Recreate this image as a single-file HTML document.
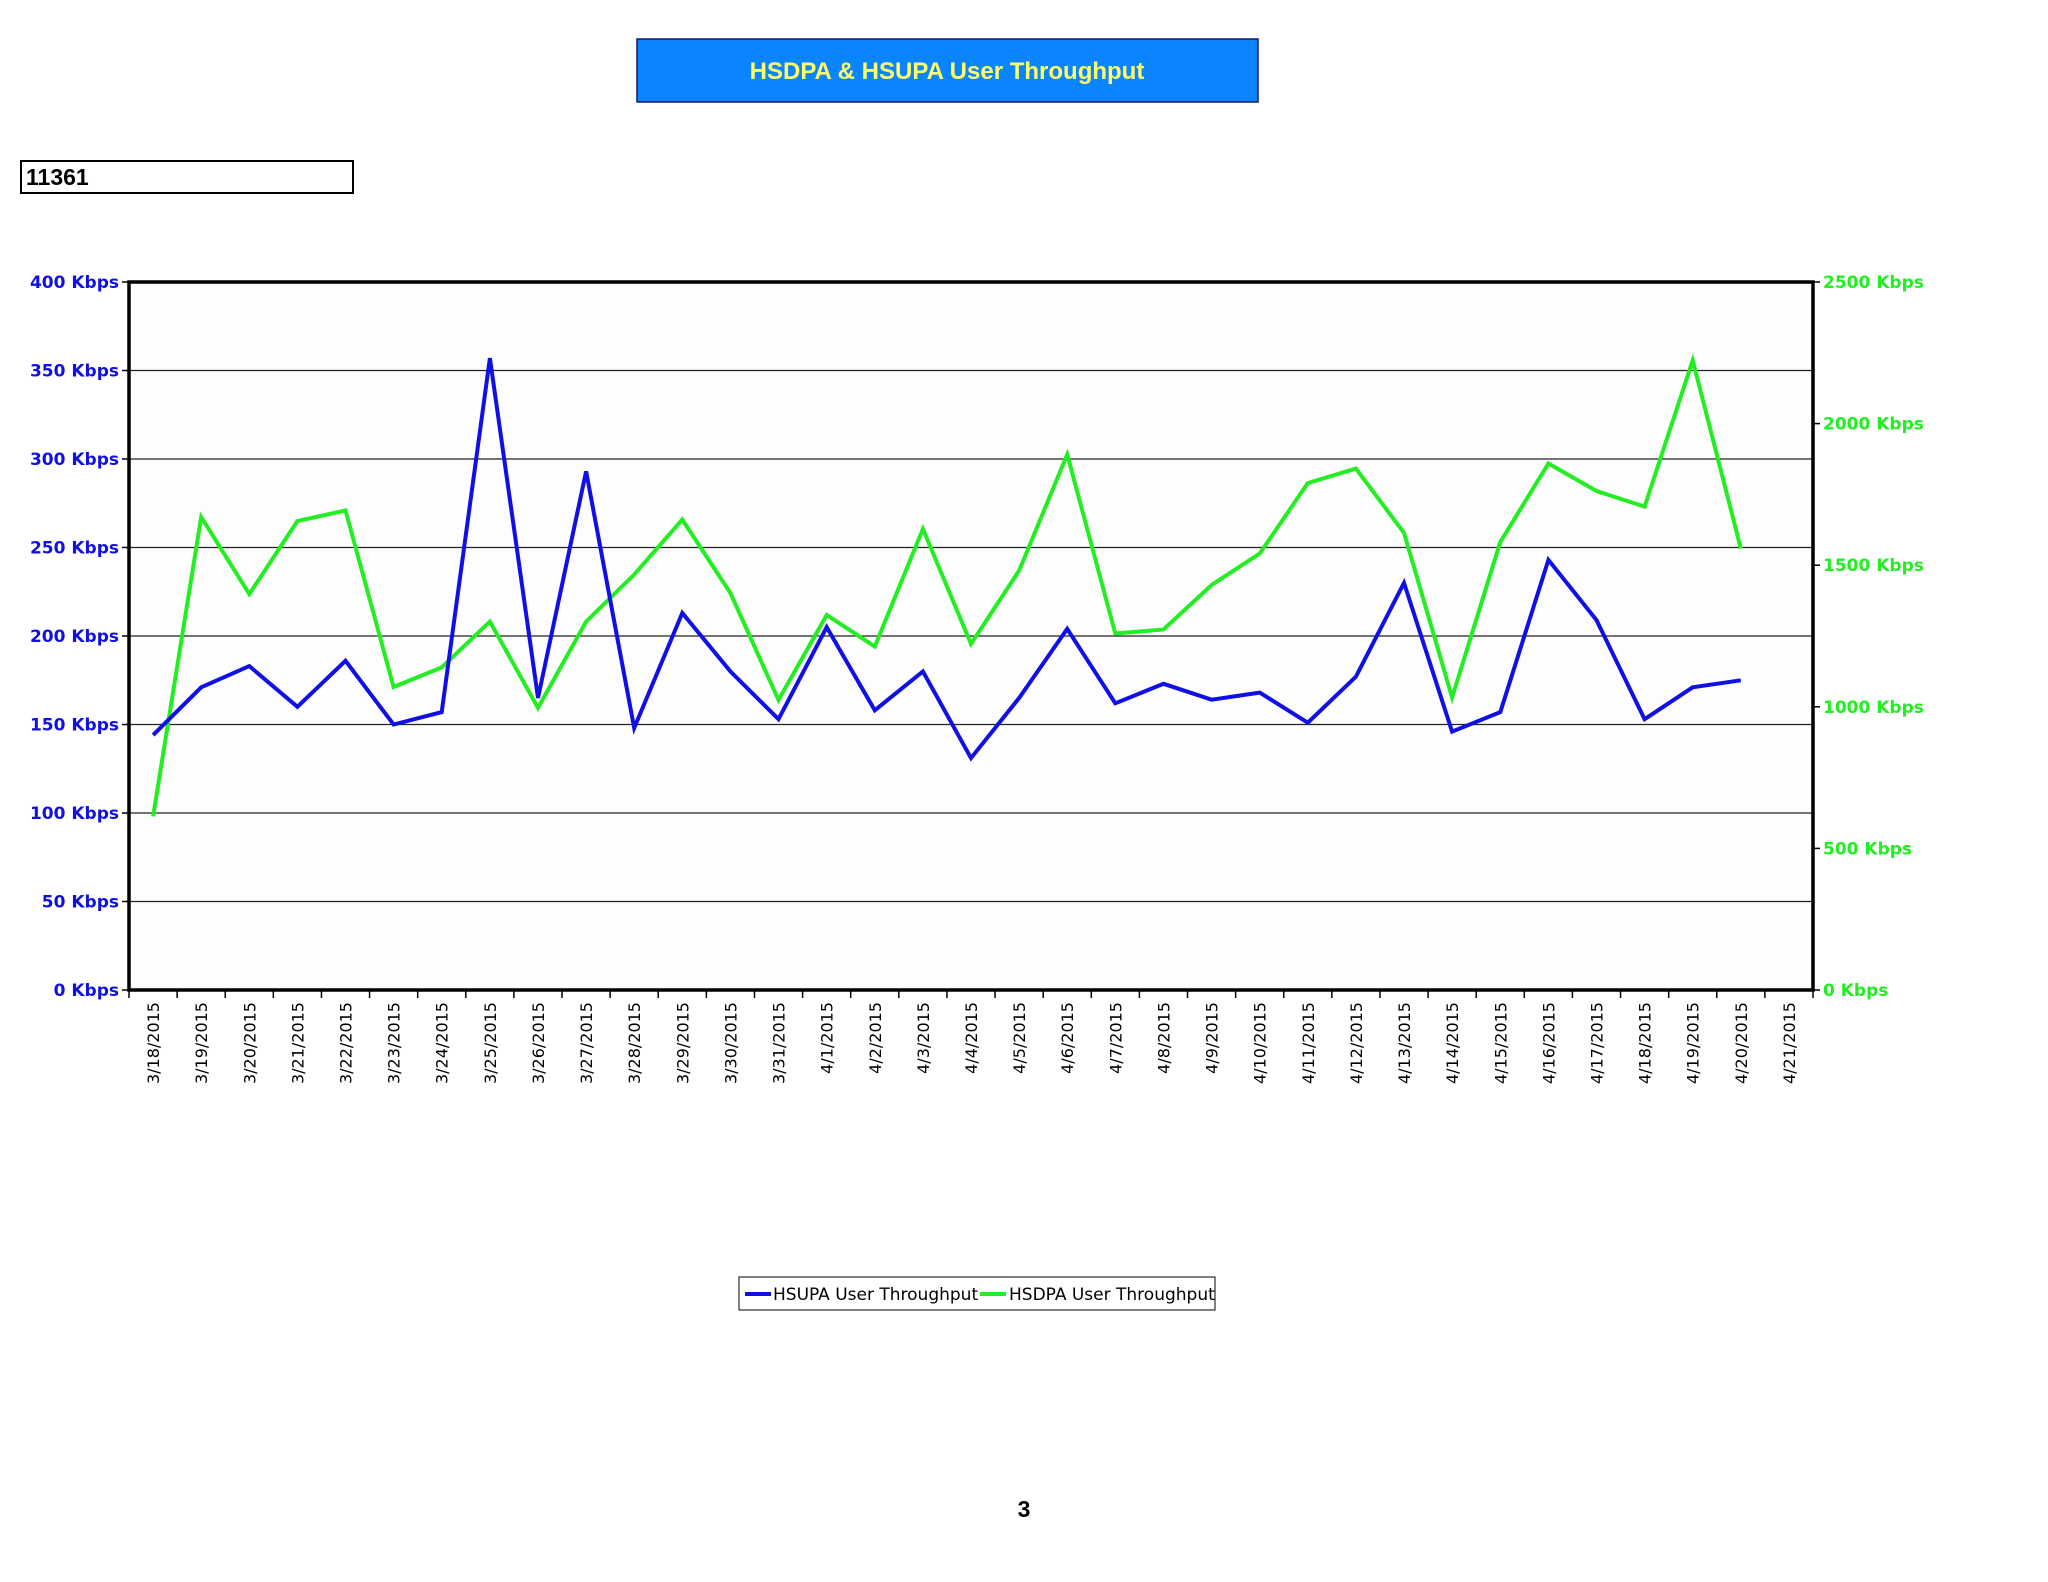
<!DOCTYPE html>
<html><head><meta charset="utf-8"><style>
html,body{margin:0;padding:0;background:#fff;}
svg{display:block;}
text{font-family:"DejaVu Sans","Liberation Sans",sans-serif;}
</style></head><body>
<svg id="c" width="2048" height="1582" viewBox="0 0 2048 1582">
<rect x="637" y="39" width="621" height="63" fill="#0a84ff" stroke="#1a1a5a" stroke-width="1.5"/>
<text x="947" y="79" text-anchor="middle" font-size="24" font-weight="bold" fill="#ffff66" style="font-family:'Liberation Sans',sans-serif">HSDPA &amp; HSUPA User Throughput</text>
<rect x="21" y="161" width="332" height="32" fill="#fff" stroke="#000" stroke-width="2"/>
<text x="26" y="185" font-size="23" font-weight="bold" fill="#000" style="font-family:'Liberation Sans',sans-serif">11361</text>
<g id="grid"></g><g id="axes"></g><g id="series"></g>
<g>
<rect x="739" y="1277" width="476" height="33" fill="#fff" stroke="#000" stroke-width="1"/>
<line x1="745" y1="1294" x2="771" y2="1294" stroke="#1010e6" stroke-width="4"/>
<text x="773" y="1300" font-size="17" fill="#000">HSUPA User Throughput</text>
<line x1="980" y1="1294" x2="1006" y2="1294" stroke="#22ee22" stroke-width="4"/>
<text x="1009" y="1300" font-size="17" fill="#000">HSDPA User Throughput</text>
</g>
<text x="1024" y="1517" text-anchor="middle" font-size="23" font-weight="bold" fill="#000" style="font-family:'Liberation Sans',sans-serif">3</text>
</svg>
<script>
const categories=["3/18/2015","3/19/2015","3/20/2015","3/21/2015","3/22/2015","3/23/2015","3/24/2015","3/25/2015","3/26/2015","3/27/2015","3/28/2015","3/29/2015","3/30/2015","3/31/2015","4/1/2015","4/2/2015","4/3/2015","4/4/2015","4/5/2015","4/6/2015","4/7/2015","4/8/2015","4/9/2015","4/10/2015","4/11/2015","4/12/2015","4/13/2015","4/14/2015","4/15/2015","4/16/2015","4/17/2015","4/18/2015","4/19/2015","4/20/2015","4/21/2015"];
const hsupa=[144,171,183,160,186,150,157,357,165,293,148,213,180,153,205,158,180,131,165,204,162,173,164,168,151,177,230,146,157,243,209,153,171,175,null];
const hsdpa=[613,1670,1398,1656,1693,1070,1139,1301,996,1301,1467,1661,1402,1024,1324,1213,1628,1222,1481,1891,1259,1273,1430,1541,1790,1841,1614,1033,1582,1859,1762,1707,2223,1559,null];
const leftTicks=[0,50,100,150,200,250,300,350,400];
const rightTicks=[0,500,1000,1500,2000,2500];
const L=129,R=1813,T=282,B=990,NS="http://www.w3.org/2000/svg";
const xs=i=>L+(i+0.5)*(R-L)/categories.length;
const yL=v=>B-(v/400)*(B-T);
const yR=v=>B-(v/2500)*(B-T);
function mk(tag,attrs,parent,txt){const e=document.createElementNS(NS,tag);for(const k in attrs)e.setAttribute(k,attrs[k]);if(txt!==undefined)e.textContent=txt;parent.appendChild(e);return e;}
const grid=document.getElementById('grid'),axes=document.getElementById('axes'),ser=document.getElementById('series');
mk('rect',{x:L,y:T,width:R-L,height:B-T,fill:'#fdfdfd'},grid);
leftTicks.forEach(v=>{
 const y=yL(v);
 const g=mk('line',{x1:L,x2:R,y1:y,y2:y,stroke:'#222','stroke-width':1.2},grid);
 
 
 mk('line',{x1:L-7,x2:L,y1:y,y2:y,stroke:'#000','stroke-width':1.5},axes);
 const t=mk('text',{x:L-10,y:y+6,'text-anchor':'end','font-size':17,'font-weight':'bold',fill:'#1010e6'},axes,v+' Kbps');
 
 
});
rightTicks.forEach(v=>{
 const y=yR(v);
 mk('line',{x1:R,x2:R+7,y1:y,y2:y,stroke:'#000','stroke-width':1.5},axes);
 const t=mk('text',{x:R+10,y:y+6,'font-size':17,'font-weight':'bold',fill:'#22ee22'},axes,v+' Kbps');
 
 
});
const step=(R-L)/categories.length;
for(let i=0;i<=categories.length;i++){mk('line',{x1:L+i*step,x2:L+i*step,y1:B,y2:B+8,stroke:'#000','stroke-width':1.5},axes);}
categories.forEach((c,i)=>{
 const x=xs(i)+6,y=B+12;
 const t=mk('text',{x:x,y:y,'text-anchor':'end','font-size':16,fill:'#000',transform:`rotate(-90 ${x} ${y})`},axes,c);
 
 
});
const frame=mk('rect',{x:L,y:T,width:R-L,height:B-T,fill:'none',stroke:'#000','stroke-width':3.5},axes);


function line(data,yf,color,name){
 const pts=[];data.forEach((v,i)=>{if(v!==null)pts.push(xs(i).toFixed(1)+','+yf(v).toFixed(1));});
 const p=mk('polyline',{points:pts.join(' '),fill:'none',stroke:color,'stroke-width':4,'stroke-linejoin':'miter'},ser);
 
 
}
line(hsdpa,yR,'#22ee22','hsdpa-line');
line(hsupa,yL,'#1010e6','hsupa-line');
</script>
</body></html>
